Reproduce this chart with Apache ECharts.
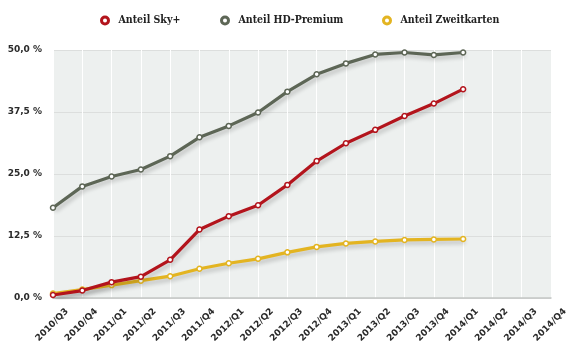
<!DOCTYPE html>
<html>
<head>
<meta charset="utf-8">
<script src="https://cdn.jsdelivr.net/npm/echarts@6/dist/echarts.min.js"></script>
<style>
  html, body { margin: 0; padding: 0; background: #fff; }
  #chart { width: 580px; height: 351px; }
</style>
</head>
<body>
<div id="chart"></div>
<script>
// Quartale
const quarters = ['2010/Q3', '2010/Q4', '2011/Q1', '2011/Q2', '2011/Q3', '2011/Q4',
  '2012/Q1', '2012/Q2', '2012/Q3', '2012/Q4', '2013/Q1', '2013/Q2', '2013/Q3',
  '2013/Q4', '2014/Q1', '2014/Q2', '2014/Q3', '2014/Q4'];
// Anteile in %
const skyPlus = [0.6, 1.5, 3.2, 4.3, 7.7, 13.8, 16.5, 18.7, 22.8, 27.6, 31.2, 33.9, 36.7, 39.2, 42.1];
const hdPremium = [18.2, 22.5, 24.5, 25.9, 28.6, 32.4, 34.7, 37.4, 41.6, 45.1, 47.3, 49.1, 49.5, 49.0, 49.5];
const zweitkarten = [0.9, 1.7, 2.6, 3.5, 4.4, 5.9, 7.0, 7.9, 9.2, 10.3, 11.0, 11.4, 11.7, 11.8, 11.9];
const yTicks = [0, 12.5, 25, 37.5, 50];

const names = ['Anteil Sky+', 'Anteil HD-Premium', 'Anteil Zweitkarten'];
const colors = ['#b3141c', '#5d6656', '#e3b421'];
const lists = [skyPlus, hdPremium, zweitkarten];
const legendLeft = [95, 215, 377];

const labelFont = { fontFamily: 'DejaVu Sans', fontWeight: 'bold', fontSize: 9, color: '#2a2a2a' };

const chart = echarts.init(document.getElementById('chart'));

const option = {
  animation: false,
  legend: names.map((n, i) => ({
    top: 10,
    left: legendLeft[i],
    icon: 'circle',
    itemWidth: 7,
    itemHeight: 7,
    itemGap: 9,
    data: [{ name: n, itemStyle: { color: '#fff', borderColor: colors[i], borderWidth: 3 } }],
    textStyle: {
      fontFamily: 'DejaVu Serif Condensed, DejaVu Serif', fontWeight: 'bold', fontSize: 10.5,
      color: '#222', padding: [0, 0, 0, 5]
    }
  })),
  grid: [
    { left: 53, right: 29, top: 50, bottom: 53, show: true, backgroundColor: '#edf0ef', borderWidth: 0 },
    // nur für die Beschriftung der Quartale (leicht nach rechts versetzt wie im Original)
    { left: 67, right: 15, top: 50, bottom: 53, show: false }
  ],
  xAxis: [{
    type: 'category',
    data: quarters,
    boundaryGap: false,
    axisLine: { lineStyle: { color: '#c4c6c5', width: 1.5 } },
    axisTick: { show: false },
    splitLine: { show: true, interval: 0, lineStyle: { color: '#ffffff', width: 1 } },
    axisLabel: { show: false, interval: 0 }
  }, {
    gridIndex: 1,
    type: 'category',
    data: quarters,
    boundaryGap: false,
    axisLine: { show: false },
    axisTick: { show: false },
    splitLine: { show: false },
    axisLabel: Object.assign({ rotate: 45, interval: 0, margin: 12 }, labelFont)
  }],
  yAxis: [{
    type: 'value',
    min: yTicks[0], max: yTicks[yTicks.length - 1], interval: yTicks[1] - yTicks[0],
    axisLine: { show: false },
    axisTick: { show: false },
    splitLine: { lineStyle: { color: '#dcdedd', width: 1 } },
    axisLabel: Object.assign({
      margin: 11,
      formatter: v => v.toFixed(1).replace('.', ',') + ' %'
    }, labelFont)
  }, {
    gridIndex: 1,
    type: 'value',
    min: 0, max: 50,
    show: false
  }],
  series: names.map((n, i) => ({
    name: n,
    type: 'line',
    data: lists[i],
    symbol: 'circle',
    symbolSize: 5,
    z: i === 1 ? 2 : (i === 0 ? 4 : 3),
    itemStyle: { color: '#fff', borderColor: colors[i], borderWidth: 1.5 },
    lineStyle: {
      color: colors[i], width: 3.2,
      shadowColor: 'rgba(0,0,0,0.22)', shadowBlur: 4, shadowOffsetX: 2, shadowOffsetY: 3
    }
  }))
};

chart.setOption(option);
</script>
</body>
</html>
